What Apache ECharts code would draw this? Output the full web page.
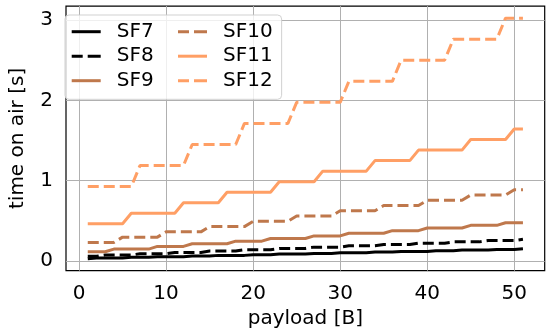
<!DOCTYPE html>
<html>
<head>
<meta charset="utf-8">
<script src="https://cdn.jsdelivr.net/npm/echarts@6/dist/echarts.min.js"></script>
<style>html,body{margin:0;padding:0;background:#fff;}#c{width:550px;height:335px;}</style>
</head>
<body>
<div id="c"></div>
<script>
const payload = [1,2,3,4,5,6,7,8,9,10,11,12,13,14,15,16,17,18,19,20,21,22,23,24,25,26,27,28,29,30,31,32,33,34,35,36,37,38,39,40,41,42,43,44,45,46,47,48,49,50,51];
const sf7 = [0.0289,0.0371,0.0371,0.0371,0.0371,0.0453,0.0453,0.0453,0.0535,0.0535,0.0535,0.0535,0.0617,0.0617,0.0617,0.0699,0.0699,0.0699,0.0699,0.0781,0.0781,0.0781,0.0863,0.0863,0.0863,0.0863,0.0945,0.0945,0.0945,0.1027,0.1027,0.1027,0.1027,0.1108,0.1108,0.1108,0.1190,0.1190,0.1190,0.1190,0.1272,0.1272,0.1272,0.1354,0.1354,0.1354,0.1354,0.1436,0.1436,0.1436,0.1518];
const sf8 = [0.0579,0.0579,0.0742,0.0742,0.0742,0.0742,0.0906,0.0906,0.0906,0.0906,0.1070,0.1070,0.1070,0.1070,0.1234,0.1234,0.1234,0.1234,0.1398,0.1398,0.1398,0.1398,0.1562,0.1562,0.1562,0.1562,0.1725,0.1725,0.1725,0.1725,0.1889,0.1889,0.1889,0.1889,0.2053,0.2053,0.2053,0.2053,0.2217,0.2217,0.2217,0.2217,0.2381,0.2381,0.2381,0.2381,0.2545,0.2545,0.2545,0.2545,0.2708];
const sf9 = [0.1157,0.1157,0.1157,0.1485,0.1485,0.1485,0.1485,0.1485,0.1812,0.1812,0.1812,0.1812,0.2140,0.2140,0.2140,0.2140,0.2140,0.2468,0.2468,0.2468,0.2468,0.2796,0.2796,0.2796,0.2796,0.2796,0.3123,0.3123,0.3123,0.3123,0.3451,0.3451,0.3451,0.3451,0.3451,0.3779,0.3779,0.3779,0.3779,0.4106,0.4106,0.4106,0.4106,0.4106,0.4434,0.4434,0.4434,0.4434,0.4762,0.4762,0.4762];
const sf10 = [0.2314,0.2314,0.2314,0.2314,0.2970,0.2970,0.2970,0.2970,0.2970,0.3625,0.3625,0.3625,0.3625,0.3625,0.4280,0.4280,0.4280,0.4280,0.4280,0.4936,0.4936,0.4936,0.4936,0.4936,0.5591,0.5591,0.5591,0.5591,0.5591,0.6246,0.6246,0.6246,0.6246,0.6246,0.6902,0.6902,0.6902,0.6902,0.6902,0.7557,0.7557,0.7557,0.7557,0.7557,0.8212,0.8212,0.8212,0.8212,0.8212,0.8868,0.8868];
const sf11 = [0.4628,0.4628,0.4628,0.4628,0.4628,0.5939,0.5939,0.5939,0.5939,0.5939,0.5939,0.7250,0.7250,0.7250,0.7250,0.7250,0.8561,0.8561,0.8561,0.8561,0.8561,0.8561,0.9871,0.9871,0.9871,0.9871,0.9871,1.1182,1.1182,1.1182,1.1182,1.1182,1.1182,1.2493,1.2493,1.2493,1.2493,1.2493,1.3804,1.3804,1.3804,1.3804,1.3804,1.3804,1.5114,1.5114,1.5114,1.5114,1.5114,1.6425,1.6425];
const sf12 = [0.9257,0.9257,0.9257,0.9257,0.9257,0.9257,1.1878,1.1878,1.1878,1.1878,1.1878,1.1878,1.4500,1.4500,1.4500,1.4500,1.4500,1.4500,1.7121,1.7121,1.7121,1.7121,1.7121,1.7121,1.9743,1.9743,1.9743,1.9743,1.9743,1.9743,2.2364,2.2364,2.2364,2.2364,2.2364,2.2364,2.4986,2.4986,2.4986,2.4986,2.4986,2.4986,2.7607,2.7607,2.7607,2.7607,2.7607,2.7607,3.0228,3.0228,3.0228];
const xTicks = [0,10,20,30,40,50];
const yTicks = [0,1,2,3];
const seriesNames = ['SF7','SF8','SF9','SF10','SF11','SF12'];
const seriesValues = [sf7, sf8, sf9, sf10, sf11, sf12];

const colors = ['#000000','#000000','#bf784c','#bf784c','#ff9f65','#ff9f65'];
const dashed = [false,true,false,true,false,true];
const FONT = 'DejaVu Sans';
const ICON_SOLID = 'path://M0,0h29v3h-29z';
const ICON_DASH = 'path://M0,0h11v3h-11zM16,0h11v3h-11zM27,0h2v3h-2z';

const chart = echarts.init(document.getElementById('c'), null, {renderer:'canvas'});
const series = seriesNames.map((n,i)=>({
  name:n, type:'line', z:3, symbol:'none', showSymbol:false, animation:false,
  data: payload.map((p,j)=>[p, seriesValues[i][j]]),
  lineStyle:{color:colors[i], width:3, type: dashed[i]?[11,5]:'solid', cap:'butt'},
  itemStyle:{color:colors[i]}
}));
series.unshift({
  type:'line', z:1, data:[], silent:true, animation:false,
  markLine:{silent:true, symbol:'none', animation:false, z:1,
    label:{show:false},
    lineStyle:{color:'#b0b0b0', width:1, type:'solid'},
    data: yTicks.map(v=>({yAxis:v})).concat(xTicks.map(v=>({xAxis:v})))
  }
});
const legendText = {fontFamily:FONT, fontSize:20, color:'#000', lineHeight:20, padding:[0,0,0,11]};
const legendItems = names => names.map(n=>({name:n, icon: dashed[seriesNames.indexOf(n)] ? ICON_DASH : ICON_SOLID}));
chart.setOption({
  animation:false,
  color: colors,
  grid:{left:57.4, right:5.3, top:6.1, bottom:64.3, show:true, borderColor:'#000', borderWidth:1.2, backgroundColor:'transparent'},
  xAxis:{type:'value', min:-1.5, max:53.5,
    name:'payload [B]', nameLocation:'middle', nameGap:37,
    nameTextStyle:{fontFamily:FONT, fontSize:20, color:'#000'},
    axisLine:{show:false},
    axisTick:{show:true, length:5, inside:false, customValues:xTicks, lineStyle:{color:'#000', width:1}},
    axisLabel:{customValues:xTicks, margin:13, fontFamily:FONT, fontSize:20, color:'#000'},
    splitLine:{show:false}},
  yAxis:{type:'value', min:-0.1208, max:3.1725,
    name:'time on air [s]', nameLocation:'middle', nameGap:38,
    nameTextStyle:{fontFamily:FONT, fontSize:20, color:'#000'},
    axisLine:{show:false},
    axisTick:{show:true, length:5, inside:false, customValues:yTicks, lineStyle:{color:'#000', width:1}},
    axisLabel:{customValues:yTicks, margin:13, fontFamily:FONT, fontSize:20, color:'#000'},
    splitLine:{show:false}},
  legend:[
    {data:legendItems(['SF7','SF8','SF9']), orient:'vertical', left:65, top:15,
     padding:[6.7,128,8.6,6.7], itemGap:4.5, itemWidth:29, itemHeight:3, symbolKeepAspect:false,
     backgroundColor:'rgba(255,255,255,0.8)', borderColor:'rgba(204,204,204,0.9)', borderWidth:1, borderRadius:4,
     textStyle:legendText, z:5},
    {data:legendItems(['SF10','SF11','SF12']), orient:'vertical', left:178, top:21.7,
     padding:0, itemGap:4.5, itemWidth:29, itemHeight:3, symbolKeepAspect:false,
     textStyle:legendText, z:6}
  ],
  series: series
});
</script>
</body>
</html>
